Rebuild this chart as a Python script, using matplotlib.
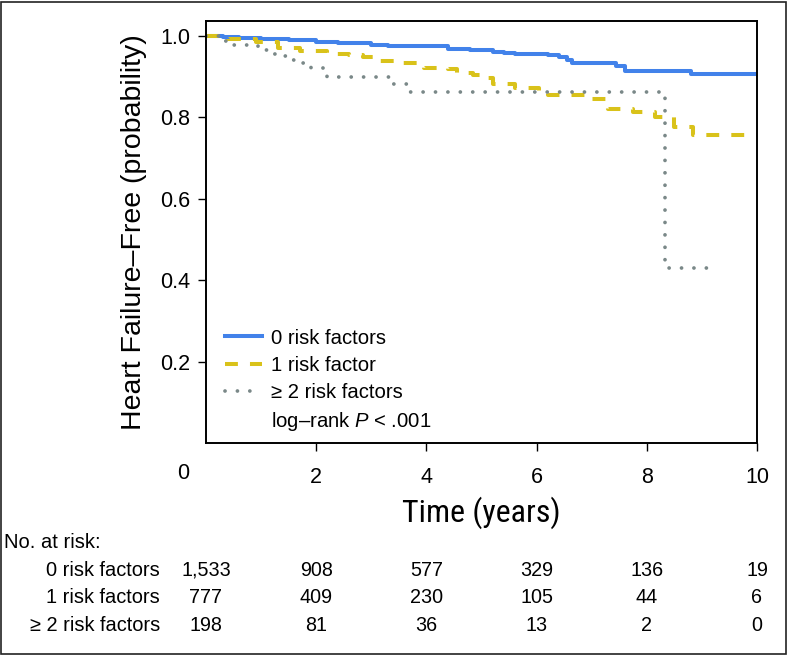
import matplotlib
matplotlib.use("Agg")
import matplotlib.pyplot as plt
import matplotlib.transforms as mtransforms
from matplotlib import font_manager
from matplotlib.lines import Line2D
from matplotlib.patches import Rectangle

# Kaplan-Meier curves (time in years, survival probability)
t_0 = [0, 0.3, 0.6, 1.0, 1.5, 2.0, 2.4, 3.0, 3.3, 4.4, 4.8, 5.2, 5.4, 5.6, 6.2, 6.4, 6.55, 6.65, 7.45, 7.6, 8.8, 10]
s_0 = [1.0, 0.997, 0.995, 0.993, 0.990, 0.986, 0.982, 0.978, 0.975, 0.969, 0.966, 0.961, 0.957, 0.955,
       0.954, 0.948, 0.940, 0.933, 0.925, 0.915, 0.907, 0.907]

t_1 = [0, 0.4, 0.9, 1.3, 1.7, 2.2, 2.6, 2.85, 3.05, 3.5, 3.95, 4.4, 4.55, 4.85, 5.0, 5.2, 5.6, 6.05,
       6.2, 6.9, 7.3, 7.75, 8.15, 8.5, 8.83, 10]
s_1 = [1.0, 0.993, 0.985, 0.971, 0.963, 0.956, 0.953, 0.948, 0.938, 0.934, 0.922, 0.918, 0.909, 0.903,
       0.897, 0.881, 0.872, 0.864, 0.856, 0.845, 0.821, 0.814, 0.800, 0.777, 0.756, 0.756]

t_2 = [0, 0.3, 0.5, 0.75, 0.95, 1.15, 1.35, 1.55, 1.75, 1.9, 2.2, 3.35, 3.7, 8.33, 9.15]
s_2 = [1.0, 0.988, 0.977, 0.975, 0.965, 0.956, 0.950, 0.942, 0.933, 0.922, 0.900, 0.882, 0.862, 0.430, 0.430]

labels = ["0 risk factors", "1 risk factor", "\u2265 2 risk factors"]
colors = ["#4282EA", "#D9C21A", "#7A8888"]

# number at risk table
risk_times = [0, 2, 4, 6, 8, 10]
risk_rows = ["0 risk factors", "1 risk factors", "\u2265 2 risk factors"]
risk_0 = ["1,533", "908", "577", "329", "136", "19"]
risk_1 = ["777", "409", "230", "105", "44", "6"]
risk_2 = ["198", "81", "36", "13", "2", "0"]

# a narrow face for the axis title if one is installed
names = {f.name for f in font_manager.fontManager.ttflist}
narrow = None
for cand in ["Liberation Sans Narrow", "Roboto Condensed", "Open Sans Condensed", "DejaVu Sans Condensed"]:
    if cand in names:
        narrow = cand
        break

plt.rcParams["font.family"] = ["Liberation Sans", "DejaVu Sans"]
plt.rcParams["mathtext.fontset"] = "custom"
plt.rcParams["mathtext.rm"] = "Liberation Sans"
plt.rcParams["mathtext.it"] = "Liberation Sans:italic"

fig = plt.figure(figsize=(7.89, 6.56), dpi=100)
ax = fig.add_axes([206 / 789, 1 - 443 / 656, 551 / 789, 422.3 / 656])

ax.step(t_0, s_0, where="post", color=colors[0], lw=2.9, label=labels[0])
ax.step(t_1, s_1, where="post", color=colors[1], lw=2.9, dashes=(3.2, 3.0), label=labels[1])
ax.step(t_2, s_2, where="post", color=colors[2], lw=2.7, dashes=(0.01, 3.3),
        dash_capstyle="round", label=labels[2])

ax.set_xlim(0, 10)
ax.set_ylim(0, 1.0375)
ax.set_xticks([2, 4, 6, 8, 10])
ax.set_yticks([0.2, 0.4, 0.6, 0.8, 1.0])
ax.set_yticklabels(["0.2", "0.4", "0.6", "0.8", "1.0"])
ax.tick_params(axis="y", length=5.5, width=1, pad=6, labelsize=15.5)
ax.tick_params(axis="x", length=6, width=1, pad=11, labelsize=15.5)
for sp in ax.spines.values():
    sp.set_linewidth(1.4)

# the shared "0" at the origin
ax.text(-0.42, -0.075, "0", fontsize=15.5, ha="center", va="center")

ax.set_ylabel("Heart Failure\u2013Free (probability)", fontsize=20.5, labelpad=9)
if narrow:
    ax.set_xlabel("Time (years)", fontsize=23, family=[narrow, "DejaVu Sans"], labelpad=6)
else:
    ax.set_xlabel("Time (years)", fontsize=21, labelpad=7)

handles, _ = ax.get_legend_handles_labels()
handles.append(Line2D([], [], color="none"))
leg = ax.legend(handles, labels + ["log\u2013rank $\\it{P}$ < .001"], loc="upper left",
                bbox_to_anchor=(0.034, 0.271), frameon=False, fontsize=14.6, handlelength=1.85,
                handletextpad=0.42, labelspacing=0.41, borderpad=0, borderaxespad=0)

# number at risk
trans = mtransforms.blended_transform_factory(ax.transData, fig.transFigure)
fig.text(4 / 789, 1 - 542.7 / 656, "No. at risk:", fontsize=14.5, ha="left", va="center")
row_y = [1 - 570 / 656, 1 - 597.7 / 656, 1 - 625.7 / 656]
for name, vals, yy in zip(risk_rows, [risk_0, risk_1, risk_2], row_y):
    fig.text(160 / 789, yy, name, fontsize=14.4, ha="right", va="center")
    for tt, v in zip(risk_times, vals):
        ax.text(tt, yy, v, transform=trans, fontsize=14.2, ha="center", va="center", clip_on=False)

# outer frame
fig.patches.append(Rectangle((1 / 789, 2 / 656), 785 / 789, 652 / 656, transform=fig.transFigure,
                             fill=False, lw=1.2, ec="#222222"))

fig.savefig("out.png", dpi=100)
